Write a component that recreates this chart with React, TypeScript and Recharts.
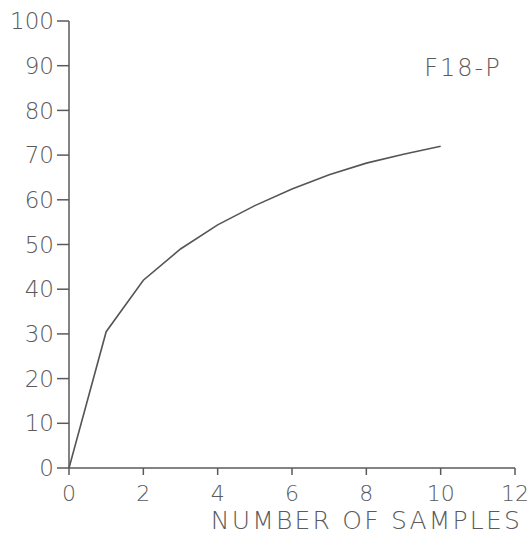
import React from 'react';
import { LineChart, Line, XAxis, YAxis, ReferenceDot } from 'recharts';

// Cumulative curve for sample F18-P
const samples = [0, 1, 2, 3, 4, 5, 6, 7, 8, 9, 10];
const values = [0, 30.5, 42, 49, 54.4, 58.7, 62.4, 65.6, 68.2, 70.2, 72];
const xTicks = [0, 2, 4, 6, 8, 10, 12];
const yTicks = [0, 10, 20, 30, 40, 50, 60, 70, 80, 90, 100];
const seriesName = 'F18-P';
const xTitle = 'NUMBER OF SAMPLES';

const data = samples.map((n, i) => ({ n, v: values[i] }));

const FONT = '"DejaVu Sans", "Liberation Sans", sans-serif';
const INK = '#5a5a5a';

export default function App() {
  return (
    <div style={{ position: 'absolute', left: 0, top: 0, width: 530, height: 536, background: '#fff' }}>
      <LineChart width={530} height={536} data={data} margin={{ top: 21, right: 15, bottom: 0, left: 0 }}>
        <XAxis
          dataKey="n"
          type="number"
          domain={[0, 12]}
          ticks={xTicks}
          interval={0}
          height={68}
          tickSize={7}
          tickMargin={10}
          stroke={INK}
          strokeWidth={1.5}
          tick={{ fill: INK, fontSize: 22, fontFamily: FONT, fontWeight: 200 }}
          label={{
            value: xTitle,
            position: 'insideBottomRight',
            offset: 7,
            dx: 14,
            fill: INK,
            fontSize: 25,
            fontFamily: FONT,
            fontWeight: 200,
            letterSpacing: 2.2,
          }}
        />
        <YAxis
          type="number"
          domain={[0, 100]}
          ticks={yTicks}
          interval={0}
          width={69}
          tickSize={12}
          tickMargin={3}
          stroke={INK}
          strokeWidth={1.5}
          tick={{ fill: INK, fontSize: 23, fontFamily: FONT, fontWeight: 200 }}
        />
        <Line
          dataKey="v"
          type="linear"
          stroke="#555"
          strokeWidth={1.6}
          dot={false}
          isAnimationActive={false}
        />
        <ReferenceDot
          x={10.6}
          y={89.5}
          r={0}
          fill="none"
          stroke="none"
          label={{
            value: seriesName,
            position: 'center',
            fill: INK,
            fontSize: 24,
            fontFamily: FONT,
            fontWeight: 200,
            letterSpacing: 2,
          }}
        />
      </LineChart>
    </div>
  );
}
